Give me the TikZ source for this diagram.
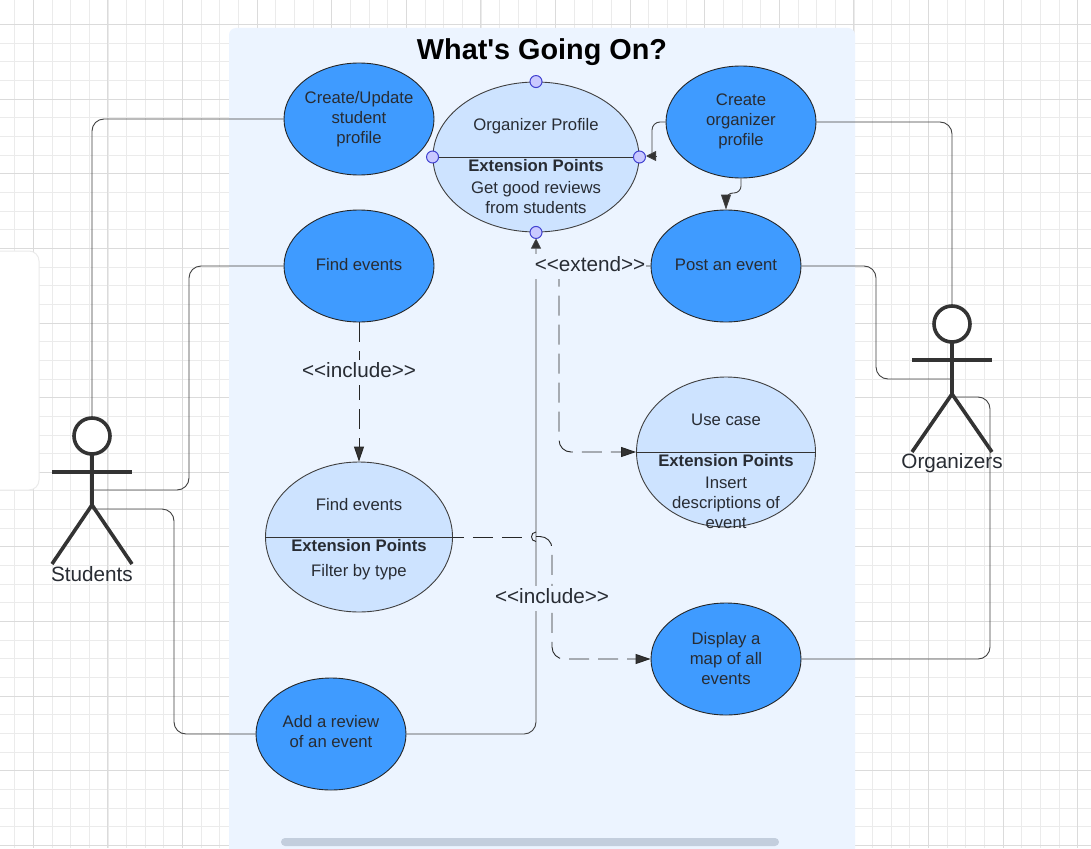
\documentclass[tikz,border=0pt]{standalone}
\usepackage{fontspec}
\setmainfont{Liberation Sans}
\usetikzlibrary{arrows.meta,shapes.geometric}
\definecolor{panelblue}{HTML}{ECF4FF}
\definecolor{usecaseblue}{HTML}{3F9BFF}
\definecolor{paleblue}{HTML}{CDE3FF}
\definecolor{inktext}{HTML}{282C33}
\definecolor{actorink}{HTML}{333333}
\definecolor{handlefill}{HTML}{C9C9FF}
\definecolor{handleline}{HTML}{4040D0}
\definecolor{scrollgrey}{HTML}{C3CEDD}
\tikzset{
    usecase/.style={draw=black!85, ellipse, fill=usecaseblue, inner xsep=-10pt, inner ysep=0pt, line width=0.9pt,
        minimum width=150pt, minimum height=112pt, align=center, text=inktext,
        font=\fontsize{16.7}{20}\selectfont},
    extcase/.style={draw=black!75, ellipse, fill=paleblue, inner sep=0pt, line width=0.9pt},
    casetext/.style={align=center, text=inktext, font=\fontsize{16.7}{20}\selectfont},
    exttext/.style={text=inktext, font=\fontsize{16.7}{20}\bfseries\selectfont},
    stereo/.style={fill=panelblue, text=inktext, inner xsep=1pt, inner ysep=0pt, anchor=base,
        text height=17pt, text depth=8pt, font=\fontsize{20.7}{24}\selectfont},
    actorname/.style={text=inktext, inner sep=0pt, font=\fontsize{20.7}{24}\selectfont},
    head/.style={draw=actorink, circle, fill=white, line width=3.6pt, minimum size=36pt, inner sep=0pt},
    limb/.style={draw=actorink, line width=3.6pt},
    handle/.style={draw=handleline, circle, fill=handlefill, line width=1pt, minimum size=12pt, inner sep=0pt},
    link/.style={draw=black!75, line width=0.9pt, rounded corners=12pt},
    dashlink/.style={draw=black!85, line width=0.9pt, rounded corners=12pt, dash pattern=on 20pt off 9pt},
    tip/.style={-{Triangle[length=15pt,width=10pt,fill=actorink]}},
    smalltip/.style={-{Triangle[length=10pt,width=10pt,fill=actorink]}},
}
\begin{document}
\begin{tikzpicture}[x=1pt,y=-1pt]
    \useasboundingbox (0,0) rectangle (1091,848);
    \fill[white] (0,0) rectangle (1091,848);
    % grid
    \begin{scope}
        \clip (0,0) rectangle (1091,848);
        \foreach \i in {0,...,58} {
            \draw[black!8, line width=0.8pt] ({14.65+18.65*\i},0) -- ({14.65+18.65*\i},848);
        }
        \foreach \i in {0,...,45} {
            \draw[black!8, line width=0.8pt] (0,{24.6+18.65*\i}) -- (1091,{24.6+18.65*\i});
        }
        \foreach \i in {0,...,14} {
            \draw[black!14, line width=0.9pt] ({33.3+74.6*\i},0) -- ({33.3+74.6*\i},848);
        }
        \foreach \i in {0,...,11} {
            \draw[black!14, line width=0.9pt] (0,{24.6+74.6*\i}) -- (1091,{24.6+74.6*\i});
        }
    \end{scope}
    % panels
    \fill[white, rounded corners=10pt] (-20,251) rectangle (39,490);
    \draw[black!8, line width=1pt, rounded corners=10pt] (-20,251) rectangle (39,490);
    \fill[panelblue, rounded corners=7pt] (229,28) rectangle (855,870);
    \fill[scrollgrey, rounded corners=4pt] (281,838) rectangle (779,846);
    \node[text=black, font=\fontsize{28.8}{32}\bfseries\selectfont] (title) at (542,52) {What\textquotesingle s Going On?};

    % use cases
    \node[usecase] (createstudent) at (359,119) {Create/Update\\student\\profile};
    \node[usecase, text depth=3pt] (findevents) at (359,266) {Find events};
    \node[usecase, text depth=5pt] (createorg) at (741,122) {Create\\organizer\\profile};
    \node[usecase, text depth=3pt] (postevent) at (726,266) {Post an event};
    \node[usecase] (displaymap) at (726,659) {Display a\\map of all\\events};
    \node[usecase, text depth=5pt] (addreview) at (331,734) {Add a review\\of an event};
    \node[extcase, minimum width=206pt, minimum height=150pt] (orgprofile) at (536,157) {};
    \node[extcase, minimum width=179pt, minimum height=150pt] (usecasebox) at (726,452) {};
    \node[extcase, minimum width=187pt, minimum height=150pt] (filterbox) at (359,537) {};
    \draw[black!80, line width=0.9pt] (orgprofile.west) -- (orgprofile.east);
    \draw[black!80, line width=0.9pt] (usecasebox.west) -- (usecasebox.east);
    \draw[black!80, line width=0.9pt] (filterbox.west) -- (filterbox.east);

    \node[casetext] (orgtitle) at (536,126) {Organizer Profile};
    \node[exttext] (orgext) at (536,166) {Extension Points};
    \node[casetext] (orgtext) at (536,198) {Get good reviews\\from students};
    \node[casetext] (usetitle) at (726,420) {Use case};
    \node[exttext] (useext) at (726,461) {Extension Points};
    \node[casetext] (usetext) at (726,503) {Insert\\descriptions of\\event};
    \node[casetext] (filtertitle) at (359,505) {Find events};
    \node[exttext] (filterext) at (359,546) {Extension Points};
    \node[casetext] (filtertext) at (359,572.5) {Filter by type};

    % actors
    \coordinate (studenthip) at (92,505);
    \coordinate (organizerhip) at (952,394);
    \draw[limb] (92,455) -- (studenthip);
    \draw[limb] (52,472) -- (132,472);
    \draw[limb] (52,564) -- (studenthip) -- (132,564);
    \node[head] (studenthead) at (92,436) {};
    \draw[limb] (952,343) -- (organizerhip);
    \draw[limb] (912,360) -- (992,360);
    \draw[limb] (912,452) -- (organizerhip) -- (992,452);
    \node[head] (organizerhead) at (952,324) {};
    \node[actorname] (students) at (92,574) {Students};
    \node[actorname] (organizers) at (952,463.5) {Organizers};

    % connectors
    \coordinate (studentarm) at (92,490);
    \coordinate (studentleg) at (92,509);
    \coordinate (organizerarm) at (952,379);
    \coordinate (organizerleg) at (952,397);
    \draw[link] (createstudent.west) -- (92,119) -- (studenthead.north);
    \draw[link] (findevents.west) -- (189,266) -- (189,490) -- (studentarm);
    \draw[link] (studentleg) -- (174,509) -- (174,734) -- (addreview.west);
    \draw[link, smalltip] (addreview.east) -- (536,734) -- (536,238.5);
    \draw[link] (createorg.east) -- (952,122) -- (organizerhead.north);
    \draw[link, rounded corners=8pt] (createorg.west) -- (652,122) -- (652,153);
    \coordinate (orgarrowstart) at (656,156);
    \coordinate (orgarrowend) at (646,156);
    \draw[link, smalltip] (orgarrowstart) -- (orgarrowend);
    \draw[link, rounded corners=7pt, tip] (createorg.south) -- (741,193) -- (726,193) -- (postevent.north);
    \draw[link] (postevent.east) -- (876,266) -- (876,379) -- (organizerarm);
    \draw[link] (organizerleg) -- (990,397) -- (990,659) -- (displaymap.east);
    \draw[dashlink, tip] (findevents.south) -- (filterbox.north);
    \draw[dashlink, tip] (postevent.west) -- (559,266) -- (559,452) -- (usecasebox.west);
    \draw[dashlink, dash phase=9pt] (filterbox.east) -- (530,537);
    \draw[black!85, line width=0.9pt] (536,532) .. controls (530,532) and (530,541.5) .. (536,541.5);
    \draw[dashlink, tip] (536,536.5) -- (552,536.5) -- (552,659) -- (displaymap.west);
    \node[stereo] (extendlabel) at (590,271) {<{}<extend>{}>};
    \node[stereo] (includeleft) at (359,377) {<{}<include>{}>};
    \node[stereo] (includeright) at (552,603) {<{}<include>{}>};
    % handles
    \node[handle] (handletop) at (orgprofile.north) {};
    \node[handle] (handleleft) at (orgprofile.west) {};
    \node[handle] (handleright) at (orgprofile.east) {};
    \node[handle] (handlebottom) at (orgprofile.south) {};
\end{tikzpicture}
\end{document}
